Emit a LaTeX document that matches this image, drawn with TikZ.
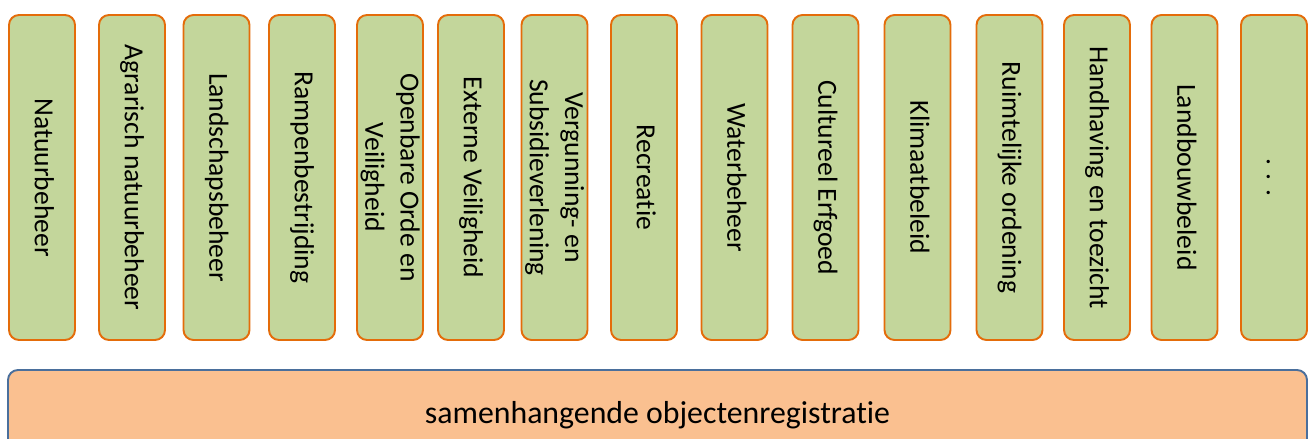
\documentclass[tikz,border=0pt]{standalone}
\usepackage{fontspec}
\setmainfont{Carlito}[Ligatures={NoCommon}]
\usepackage{xcolor}
\usepackage{graphicx}
\usepackage{tikz}
\usetikzlibrary{positioning}
\definecolor{ColumnFill}{HTML}{C3D69B}
\definecolor{ColumnBorder}{HTML}{E46C0A}
\definecolor{BaseFill}{HTML}{FAC090}
\definecolor{BaseBorder}{HTML}{4A6F9C}
\newcommand{\vlabel}[1]{\makebox[0pt][c]{\rotatebox{-90}{\begin{tabular}{@{}c@{}}#1\end{tabular}}}}

\begin{document}
\begin{tikzpicture}[
    col/.style={
      draw=ColumnBorder, fill=ColumnFill, rounded corners=2mm,
      minimum width=13.2mm, minimum height=65mm,
      inner sep=0pt, outer sep=0pt, line width=1.1pt,
      font=\fontsize{15.7}{20}\selectfont
    },
    base/.style={
      draw=BaseBorder, fill=BaseFill, rounded corners=2mm,
      minimum width=259.8mm, minimum height=18mm,
      inner sep=0pt, outer sep=0pt, line width=1.1pt,
      font=\fontsize{18.1}{22}\selectfont
    }
  ]
    \useasboundingbox (0,0) rectangle (262.4mm,-87.8mm);

    % Columns
    \node[col] (c1) at (8.4mm,-35.5mm) {\vlabel{Natuurbeheer}};
    \node[col, right=4.8mm of c1] (c2) {\vlabel{Agrarisch natuurbeheer}};
    \node[col, right=3.7mm of c2] (c3) {\vlabel{Landschapsbeheer}};
    \node[col, right=3.9mm of c3] (c4) {\vlabel{Rampenbestrijding}};
    \node[col, right=4.4mm of c4] (c5) {\vlabel{Openbare Orde en\\Veiligheid}};
    \node[col, right=3.0mm of c5] (c6) {\vlabel{Externe Veiligheid}};
    \node[col, right=3.5mm of c6] (c7) {\vlabel{Vergunning- en\\Subsidieverlening}};
    \node[col, right=4.7mm of c7] (c8) {\vlabel{Recreatie}};
    \node[col, right=4.9mm of c8] (c9) {\vlabel{Waterbeheer}};
    \node[col, right=5.0mm of c9] (c10) {\vlabel{Cultureel Erfgoed}};
    \node[col, right=5.2mm of c10] (c11) {\vlabel{Klimaatbeleid}};
    \node[col, right=5.2mm of c11] (c12) {\vlabel{Ruimtelijke ordening}};
    \node[col, right=4.3mm of c12] (c13) {\vlabel{Handhaving en toezicht}};
    \node[col, right=4.3mm of c13] (c14) {\vlabel{Landbouwbeleid}};
    \node[col, right=4.7mm of c14] (c15) {\vlabel{. . .}};

    % Base
    \node[base] (base) at (131.5mm,-83mm) {samenhangende objectenregistratie};
  \end{tikzpicture}
\end{document}
